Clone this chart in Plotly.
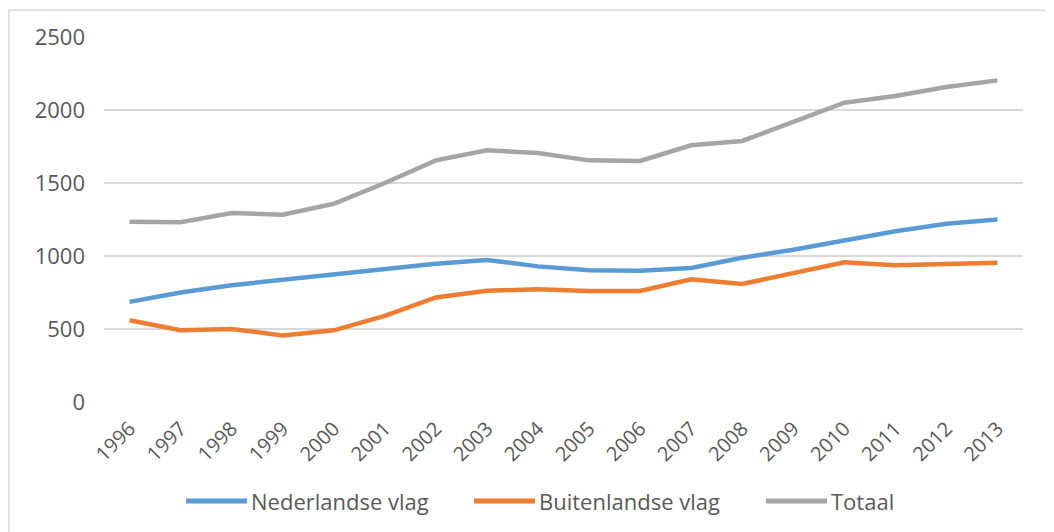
import plotly.graph_objects as go

years = [str(y) for y in range(1996, 2014)]
nederlandse = [686, 750, 800, 835, 874, 911, 947, 973, 929, 902, 899, 918, 988, 1043, 1103, 1169, 1221, 1250]
buitenlandse = [560, 491, 500, 456, 491, 590, 716, 762, 772, 760, 760, 840, 808, 884, 957, 936, 945, 954]
totaal = [1235, 1231, 1295, 1283, 1358, 1500, 1655, 1724, 1705, 1655, 1651, 1758, 1788, 1918, 2050, 2096, 2158, 2203]

series = [
    ('Nederlandse vlag', nederlandse, '#5B9BD5'),
    ('Buitenlandse vlag', buitenlandse, '#ED7D31'),
    ('Totaal', totaal, '#A5A5A5'),
]

font_txt = dict(family='Open Sans, Liberation Sans, sans-serif', color='#595959')

fig = go.Figure()
for name, vals, col in series:
    fig.add_trace(go.Scatter(x=years, y=vals, mode='lines', name=name,
                             line=dict(color=col, width=4.5)))

# kader rond de grafiek
fig.add_shape(type='rect', xref='paper', yref='paper', x0=-0.1034, x1=1.2, y0=-0.6, y1=1.073,
              line=dict(color='#D9D9D9', width=1.5), layer='above')

# legenda onderaan, met lange lijnstukken zoals in Excel
plot_w, plot_h = 919, 365
leg_x = [186, 474, 766]   # begin van elk lijnstuk (px)
leg_y = (402 - 501) / plot_h
for (name, _, col), x0 in zip(series, leg_x):
    fig.add_shape(type='line', xref='paper', yref='paper',
                  x0=(x0 - 104) / plot_w, x1=(x0 + 61 - 104) / plot_w, y0=leg_y, y1=leg_y,
                  line=dict(color=col, width=5))
    fig.add_annotation(text=name, xref='paper', yref='paper', x=(x0 + 63 - 104) / plot_w, y=leg_y,
                       xanchor='left', yanchor='middle', showarrow=False,
                       font=dict(size=22, **font_txt))

fig.update_layout(
    width=1054, height=532,
    margin=dict(l=96, r=39, t=29, b=138),
    plot_bgcolor='white', paper_bgcolor='white',
    font=dict(size=20, **font_txt),
    showlegend=False,
)
fig.update_xaxes(type='category', range=[-0.5, 17.5], tickangle=-45, showgrid=False,
                 showline=False, ticks='', ticklabelstandoff=10, tickfont=dict(size=20, **font_txt))
fig.update_yaxes(range=[0, 2500], dtick=500, showgrid=True, gridcolor='#D9D9D9', gridwidth=1.5,
                 zeroline=False, showline=False, ticks='', ticklabelstandoff=18,
                 tickfont=dict(size=22, **font_txt))

fig.write_html("out.html")
